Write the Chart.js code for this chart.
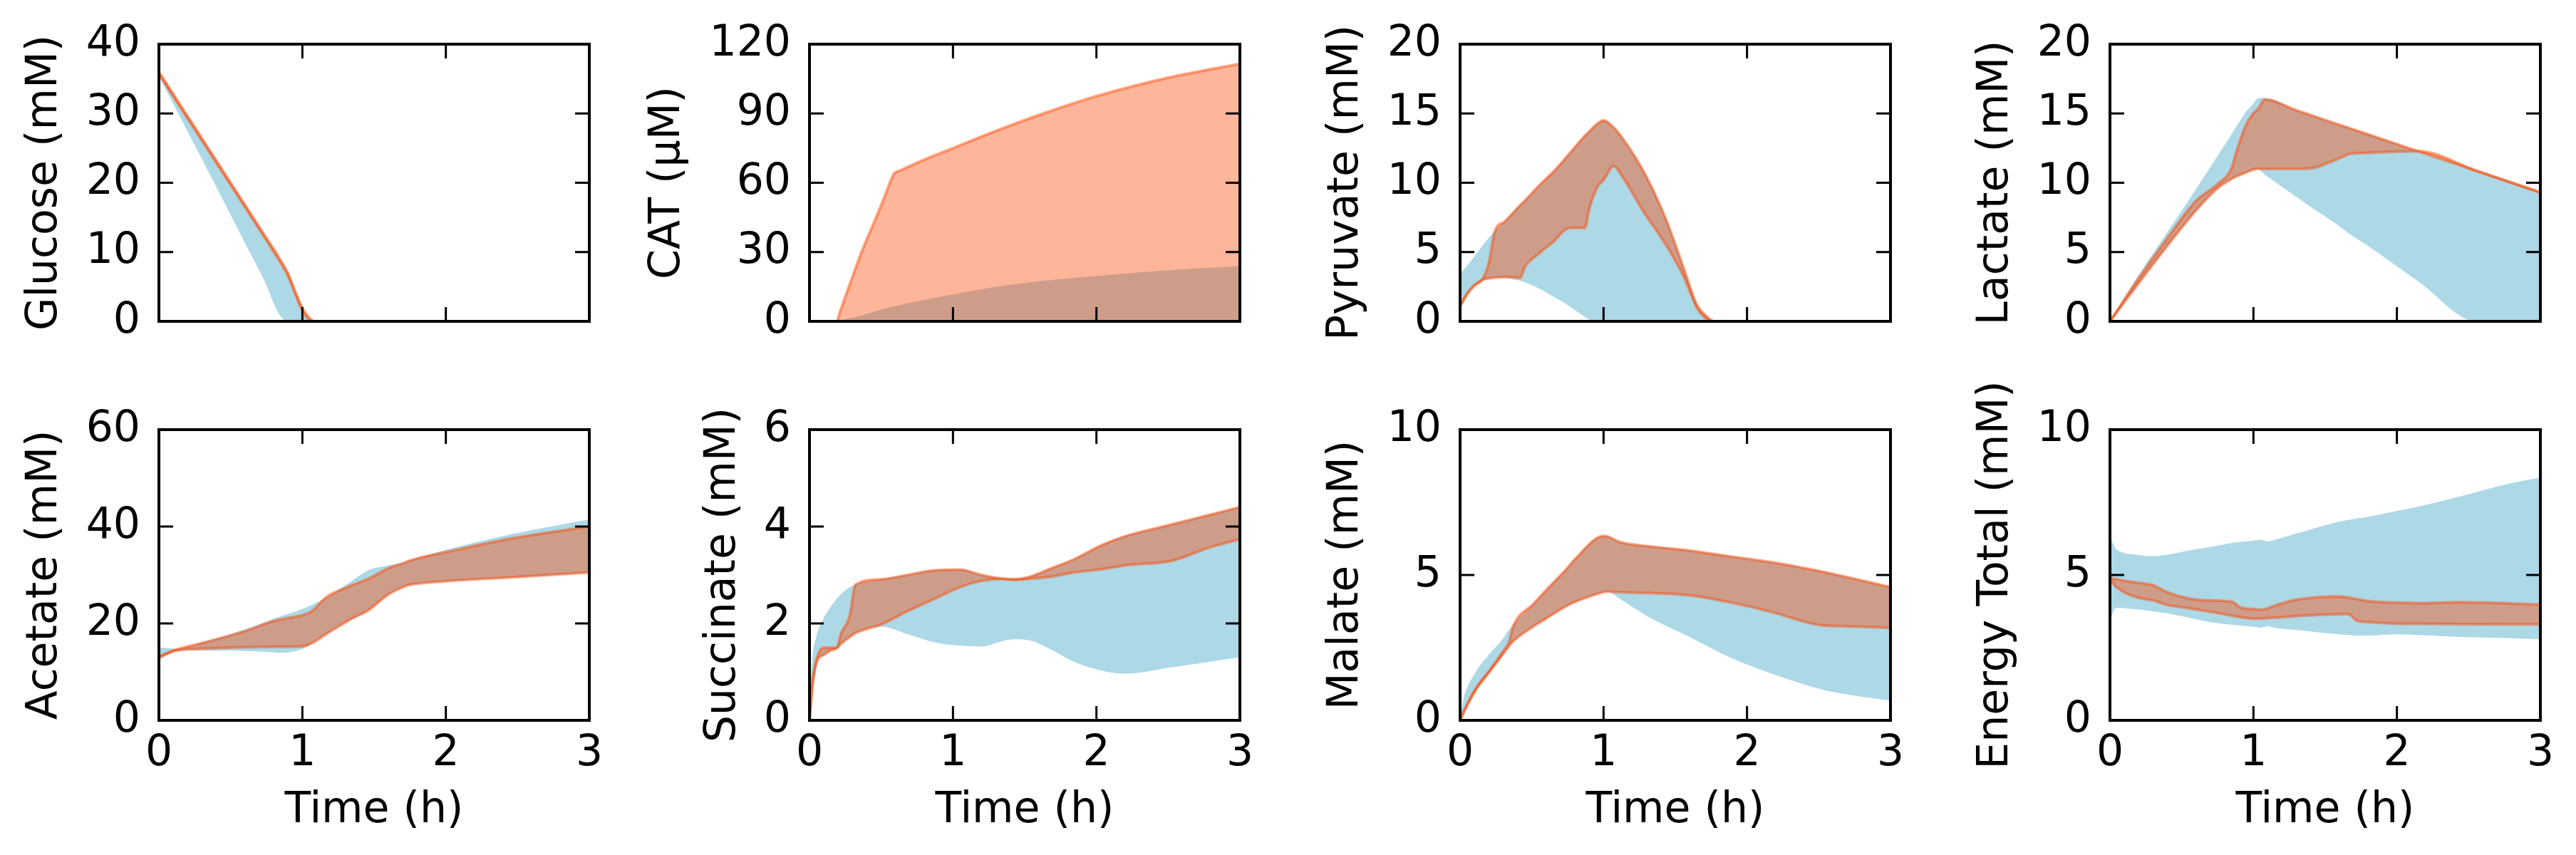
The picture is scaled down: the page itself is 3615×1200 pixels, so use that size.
<!DOCTYPE html>
<html>
<head>
<meta charset="utf-8">
<script src="https://cdn.jsdelivr.net/npm/chart.js@4.4.1/dist/chart.umd.min.js"></script>
<style>
  html, body { margin: 0; padding: 0; background: #fff; }
  body { width: 3615px; height: 1200px; position: relative; overflow: hidden; }
  canvas { position: absolute; }
</style>
</head>
<body>
<script>
// ---- data (time in h) ----
const glcTime      = [0, 0.2, 0.4, 0.6, 0.75, 0.82, 0.86, 0.9, 0.95, 1.0, 1.04, 1.08, 1.2, 2, 3];
const glcRedLow    = [35.7, 29.3, 22.9, 16.5, 11.7, 9.4, 8.1, 6.6, 4.0, 1.6, 0.4, 0, 0, 0, 0];
const glcRedHigh   = [36.0, 29.6, 23.2, 16.8, 12.0, 9.8, 8.4, 6.9, 4.3, 1.9, 0.7, 0, 0, 0, 0];
const glcBlueLow   = [35.5, 27.5, 19.5, 11.4, 5.3, 1.8, 0.5, 0, 0, 0, 0, 0, 0, 0, 0];
const glcBlueHigh  = [35.7, 29.3, 22.9, 16.5, 11.7, 9.4, 8.1, 6.6, 4.0, 1.6, 0.4, 0, 0, 0, 0];

const catTime      = [0, 0.19, 0.21, 0.25, 0.3, 0.364, 0.45, 0.52, 0.57, 0.59, 0.62, 0.8, 1.0, 1.3, 1.63, 2.0, 2.5, 3];
const catRedLow    = [0, 0, 0, 0, 0, 0, 0, 0, 0, 0, 0, 0, 0, 0, 0, 0, 0, 0];
const catRedHigh   = [0, 0, 3.6, 10.8, 19.4, 30.2, 42.9, 53.5, 61.5, 64.1, 65.0, 70, 75, 82.5, 90, 97.5, 105.5, 111.5];
const catBlueLow   = [0, 0, 0, 0, 0, 0, 0, 0, 0, 0, 0, 0, 0, 0, 0, 0, 0, 0];
const catBlueHigh  = [0, 0, 0.1, 0.7, 1.5, 2.45, 4.0, 5.3, 6.1, 6.4, 6.8, 9.2, 11.5, 14.8, 17.4, 19.5, 22.0, 23.8];

const pyrTime      = [0, 0.05, 0.1, 0.157, 0.2, 0.242, 0.31, 0.42, 0.45, 0.55, 0.66, 0.72, 0.77, 0.87, 0.9, 0.96, 1.0, 1.07, 1.14, 1.28, 1.43, 1.56, 1.65, 1.72, 1.77, 2, 3];
const pyrRedLow    = [1.1, 2.0, 2.6, 3.0, 3.1, 3.15, 3.2, 3.15, 3.9, 4.9, 5.85, 6.5, 6.75, 6.75, 8.1, 9.75, 10.2, 11.2, 10.3, 7.9, 5.6, 3.2, 1.0, 0.15, 0, 0, 0];
const pyrRedHigh   = [1.1, 2.0, 2.6, 3.05, 4.2, 6.5, 7.2, 8.4, 8.7, 9.8, 10.9, 11.6, 12.2, 13.4, 13.7, 14.3, 14.5, 14.0, 13.1, 10.8, 7.5, 3.8, 1.2, 0.35, 0, 0, 0];
const pyrBlueLow   = [1.1, 2.0, 2.6, 3.0, 3.1, 3.15, 3.15, 2.95, 2.85, 2.4, 1.75, 1.4, 1.05, 0.35, 0.15, 0, 0, 0, 0, 0, 0, 0, 0, 0, 0, 0, 0];
const pyrBlueHigh  = [3.4, 4.0, 4.65, 5.45, 6.0, 6.5, 7.2, 8.4, 8.7, 9.8, 10.9, 11.6, 12.2, 13.4, 13.7, 14.3, 14.5, 14.0, 13.1, 10.8, 7.5, 3.8, 1.2, 0.35, 0, 0, 0];

const lacTime      = [0, 0.2, 0.4, 0.6, 0.75, 0.85, 0.88, 0.95, 1.0, 1.03, 1.08, 1.3, 1.41, 1.5, 1.63, 1.66, 1.78, 2.15, 2.56, 3];
const lacRedLow    = [0, 2.75, 5.45, 8.0, 9.6, 10.3, 10.45, 10.75, 10.95, 11.0, 11.0, 11.0, 11.05, 11.35, 11.9, 12.05, 12.15, 12.27, 10.84, 9.3];
const lacRedHigh   = [0, 3.1, 6.0, 8.7, 9.9, 11.1, 12.2, 14.2, 15.0, 15.3, 16.0, 15.23, 14.85, 14.53, 14.08, 13.98, 13.56, 12.27, 10.84, 9.3];
const lacBlueLow   = [0, 2.75, 5.45, 8.0, 9.6, 10.3, 10.45, 10.75, 10.95, 11.0, 10.6, 9.0, 8.2, 7.6, 6.65, 6.4, 5.6, 2.9, 0, 0];
const lacBlueHigh  = [0, 3.3, 6.4, 9.5, 11.9, 13.5, 14.0, 15.1, 15.7, 16.05, 16.1, 15.23, 14.85, 14.53, 14.08, 13.98, 13.56, 12.27, 10.84, 9.3];

const aceTime      = [0, 0.12, 0.32, 0.6, 0.8, 0.86, 1.0, 1.06, 1.17, 1.34, 1.46, 1.6, 1.71, 1.74, 2.0, 2.45, 3];
const aceRedLow    = [13.1, 14.4, 14.8, 15.1, 15.2, 15.2, 15.3, 15.8, 17.9, 20.9, 22.7, 26.0, 27.6, 27.9, 28.7, 29.5, 30.5];
const aceRedHigh   = [13.1, 14.6, 16.1, 18.4, 20.5, 20.9, 21.7, 22.4, 25.5, 27.8, 29.2, 31.4, 32.5, 32.9, 34.7, 37.5, 40.0];
const aceBlueLow   = [12.5, 14.3, 14.5, 14.4, 14.1, 14.0, 14.8, 15.8, 17.9, 20.9, 22.7, 26.0, 27.6, 27.9, 28.7, 29.5, 30.5];
const aceBlueHigh  = [15.0, 14.7, 16.2, 18.7, 20.9, 21.5, 22.9, 23.7, 25.3, 28.6, 30.9, 31.9, 32.6, 32.9, 35.1, 38.3, 41.4];

const sucTime      = [0, 0.02, 0.05, 0.1, 0.14, 0.19, 0.22, 0.28, 0.32, 0.5, 0.68, 0.88, 1.05, 1.2, 1.33, 1.42, 1.53, 1.67, 1.84, 2.04, 2.2, 2.52, 2.8, 3];
const sucRedLow    = [0, 0.7, 1.2, 1.35, 1.43, 1.49, 1.58, 1.72, 1.8, 1.98, 2.25, 2.52, 2.75, 2.88, 2.92, 2.9, 2.92, 2.96, 3.05, 3.12, 3.2, 3.29, 3.58, 3.74];
const sucRedHigh   = [0, 0.75, 1.27, 1.5, 1.5, 1.5, 1.79, 2.15, 2.8, 2.91, 3.0, 3.1, 3.11, 3.0, 2.93, 2.91, 2.96, 3.12, 3.32, 3.62, 3.8, 4.04, 4.25, 4.4];
const sucBlueLow   = [0, 0.7, 1.2, 1.35, 1.43, 1.49, 1.58, 1.72, 1.8, 1.94, 1.79, 1.61, 1.55, 1.53, 1.63, 1.68, 1.66, 1.49, 1.22, 1.03, 0.97, 1.1, 1.22, 1.31];
const sucBlueHigh  = [0, 1.2, 1.73, 2.1, 2.3, 2.5, 2.6, 2.74, 2.8, 2.91, 3.0, 3.1, 3.11, 3.0, 2.93, 2.91, 2.96, 3.12, 3.32, 3.62, 3.8, 4.04, 4.25, 4.4];

const malTime      = [0, 0.03, 0.11, 0.21, 0.3, 0.34, 0.37, 0.51, 0.6, 0.74, 0.8, 1.0, 1.03, 1.11, 1.31, 1.6, 1.88, 2.17, 2.45, 2.54, 2.74, 3];
const malRedLow    = [0, 0.33, 1.05, 1.7, 2.28, 2.55, 2.72, 3.23, 3.5, 3.93, 4.07, 4.41, 4.43, 4.41, 4.38, 4.3, 4.06, 3.73, 3.33, 3.26, 3.23, 3.18];
const malRedHigh   = [0, 0.35, 1.1, 1.75, 2.38, 2.68, 3.23, 4.0, 4.48, 5.2, 5.54, 6.34, 6.32, 6.14, 5.99, 5.84, 5.64, 5.44, 5.19, 5.1, 4.88, 4.58];
const malBlueLow   = [0, 0.33, 1.05, 1.7, 2.28, 2.55, 2.72, 3.23, 3.5, 3.93, 4.07, 4.41, 4.43, 4.2, 3.58, 2.88, 2.18, 1.62, 1.17, 1.05, 0.87, 0.69];
const malBlueHigh  = [0, 0.8, 1.65, 2.3, 2.8, 3.1, 3.28, 4.0, 4.48, 5.2, 5.54, 6.34, 6.32, 6.14, 5.99, 5.84, 5.64, 5.44, 5.19, 5.1, 4.88, 4.58];

const eneTime      = [0, 0.04, 0.07, 0.1, 0.19, 0.27, 0.3, 0.39, 0.56, 0.71, 0.85, 0.91, 1.0, 1.05, 1.1, 1.14, 1.28, 1.34, 1.57, 1.66, 1.72, 1.8, 2.0, 2.15, 2.44, 2.79, 3];
const eneRedLow    = [4.88, 4.6, 4.5, 4.4, 4.23, 4.15, 4.13, 3.98, 3.85, 3.73, 3.6, 3.55, 3.5, 3.5, 3.52, 3.53, 3.58, 3.6, 3.65, 3.66, 3.43, 3.38, 3.33, 3.32, 3.31, 3.3, 3.3];
const eneRedHigh   = [4.9, 4.86, 4.83, 4.8, 4.74, 4.68, 4.65, 4.43, 4.18, 4.12, 4.08, 3.88, 3.83, 3.8, 3.85, 3.93, 4.13, 4.18, 4.26, 4.23, 4.17, 4.1, 4.05, 4.03, 4.06, 4.02, 3.98];
const eneBlueLow   = [3.48, 3.88, 3.88, 3.87, 3.83, 3.78, 3.76, 3.7, 3.53, 3.38, 3.3, 3.27, 3.23, 3.2, 3.25, 3.2, 3.13, 3.1, 2.98, 2.95, 2.93, 2.93, 2.97, 2.95, 2.88, 2.84, 2.8];
const eneBlueHigh  = [6.29, 5.89, 5.8, 5.74, 5.68, 5.64, 5.64, 5.68, 5.84, 5.96, 6.09, 6.13, 6.17, 6.2, 6.14, 6.18, 6.39, 6.47, 6.79, 6.88, 6.93, 6.99, 7.19, 7.34, 7.69, 8.14, 8.34];

const panelLabels = ['Glucose (mM)', 'CAT (μM)', 'Pyruvate (mM)', 'Lactate (mM)',
                     'Acetate (mM)', 'Succinate (mM)', 'Malate (mM)', 'Energy Total (mM)'];
const panelMax  = [40, 120, 20, 20, 60, 6, 10, 10];
const panelStep = [10, 30, 5, 5, 20, 2, 5, 5];
const timeMax = 3;
const timeStep = 1;

const panelSeries = [
  [glcTime, glcRedLow, glcRedHigh, glcBlueLow, glcBlueHigh],
  [catTime, catRedLow, catRedHigh, catBlueLow, catBlueHigh],
  [pyrTime, pyrRedLow, pyrRedHigh, pyrBlueLow, pyrBlueHigh],
  [lacTime, lacRedLow, lacRedHigh, lacBlueLow, lacBlueHigh],
  [aceTime, aceRedLow, aceRedHigh, aceBlueLow, aceBlueHigh],
  [sucTime, sucRedLow, sucRedHigh, sucBlueLow, sucBlueHigh],
  [malTime, malRedLow, malRedHigh, malBlueLow, malBlueHigh],
  [eneTime, eneRedLow, eneRedHigh, eneBlueLow, eneBlueHigh]
];

// ---- layout (px) ----
const COL_LEFT = [223, 1136, 2049, 2961];
const ROW_TOP = [45, 603];
const PLOT_W = 604, PLOT_H = 408;
const LEFT_W = 260, RIGHT_W = 85;

const BLUE = '#add8e6';
const RED_FILL = 'rgba(255, 69, 0, 0.4)';
const RED_EDGE = 'rgba(255, 69, 0, 0.45)';

Chart.defaults.font.family = "'DejaVu Sans', sans-serif";
Chart.defaults.font.size = 60;
Chart.defaults.color = '#000';

const font60 = { family: "'DejaVu Sans', sans-serif", size: 60 };

// matplotlib-style ticks pointing into the axes, on all four sides
const innerTicks = {
  id: 'innerTicks',
  afterDraw(chart) {
    const { ctx, chartArea: a, scales } = chart;
    const len = 20;
    ctx.save();
    ctx.strokeStyle = '#000';
    ctx.lineWidth = 3;
    ctx.beginPath();
    scales.x.ticks.forEach((t) => {
      const px = scales.x.getPixelForValue(t.value);
      ctx.moveTo(px, a.bottom); ctx.lineTo(px, a.bottom - len);
      ctx.moveTo(px, a.top); ctx.lineTo(px, a.top + len);
    });
    scales.y.ticks.forEach((t) => {
      const py = scales.y.getPixelForValue(t.value);
      ctx.moveTo(a.left, py); ctx.lineTo(a.left + len, py);
      ctx.moveTo(a.right, py); ctx.lineTo(a.right - len, py);
    });
    ctx.stroke();
    ctx.restore();
  }
};

function toPoints(t, v) {
  return t.map((x, i) => ({ x: x, y: v[i] }));
}

function bandDatasets(t, redLow, redHigh, blueLow, blueHigh) {
  const common = { pointRadius: 0, pointHoverRadius: 0, cubicInterpolationMode: 'monotone', borderJoinStyle: 'round' };
  // red band first so it is drawn on top of the blue one
  return [
    Object.assign({}, common, { data: toPoints(t, redLow), borderColor: RED_EDGE, borderWidth: 4, fill: false }),
    Object.assign({}, common, { data: toPoints(t, redHigh), borderColor: RED_EDGE, borderWidth: 4, backgroundColor: RED_FILL, fill: '-1' }),
    Object.assign({}, common, { data: toPoints(t, blueLow), borderColor: BLUE, borderWidth: 1, fill: false }),
    Object.assign({}, common, { data: toPoints(t, blueHigh), borderColor: BLUE, borderWidth: 1, backgroundColor: BLUE, fill: '-1' })
  ];
}

function frameGrid() {
  return { display: false, drawTicks: false, tickLength: 0, lineWidth: 4 };
}
function frameBorder() {
  return { display: true, color: '#000', width: 4, z: 1 };
}

panelSeries.forEach((s, k) => {
  const col = k % 4, row = Math.floor(k / 4);
  const topH = row === 0 ? 45 : 123;
  const bottomH = row === 0 ? 60 : 1200 - ROW_TOP[1] - PLOT_H;
  const W = LEFT_W + PLOT_W + RIGHT_W;
  const H = topH + PLOT_H + bottomH;

  const canvas = document.createElement('canvas');
  canvas.width = W;
  canvas.height = H;
  canvas.style.width = W + 'px';
  canvas.style.height = H + 'px';
  canvas.style.left = (COL_LEFT[col] - LEFT_W) + 'px';
  canvas.style.top = (ROW_TOP[row] - topH) + 'px';
  document.body.appendChild(canvas);

  const digits = String(panelMax[k]).length;
  const titleCenter = LEFT_W - (82 + 39 * digits);

  new Chart(canvas.getContext('2d'), {
    type: 'line',
    data: { datasets: bandDatasets(s[0], s[1], s[2], s[3], s[4]) },
    plugins: [innerTicks],
    options: {
      responsive: false,
      maintainAspectRatio: false,
      devicePixelRatio: 1,
      animation: false,
      events: [],
      layout: { padding: 0 },
      plugins: { legend: { display: false }, tooltip: { enabled: false } },
      scales: {
        x: {
          type: 'linear', position: 'bottom', min: 0, max: timeMax,
          grid: frameGrid(), border: frameBorder(),
          ticks: { display: row === 1, stepSize: timeStep, padding: 11, maxRotation: 0, autoSkip: false, font: font60, color: '#000' },
          title: { display: row === 1, text: 'Time (h)', font: font60, color: '#000', padding: { top: 0, bottom: 26 } },
          afterFit: (sc) => { sc.height = bottomH; }
        },
        xTop: {
          type: 'linear', position: 'top', min: 0, max: timeMax,
          grid: frameGrid(), border: frameBorder(),
          ticks: { display: false, stepSize: timeStep },
          afterFit: (sc) => { sc.height = topH; }
        },
        y: {
          type: 'linear', position: 'left', min: 0, max: panelMax[k],
          grid: frameGrid(), border: frameBorder(),
          ticks: { stepSize: panelStep[k], padding: 26, autoSkip: false, font: font60, color: '#000' },
          title: { display: true, text: panelLabels[k], font: font60, color: '#000',
                   padding: { top: titleCenter - 36, bottom: 0 } },
          afterFit: (sc) => { sc.width = LEFT_W; }
        },
        yRight: {
          type: 'linear', position: 'right', min: 0, max: panelMax[k],
          grid: frameGrid(), border: frameBorder(),
          ticks: { display: false, stepSize: panelStep[k] },
          afterFit: (sc) => { sc.width = RIGHT_W; }
        }
      }
    }
  });
});
</script>
</body>
</html>
